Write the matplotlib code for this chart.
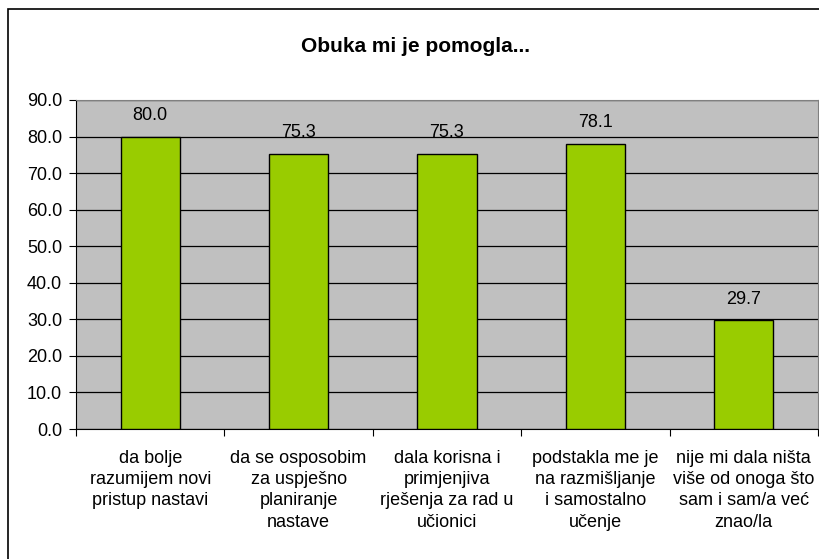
import numpy as np
import matplotlib
matplotlib.use("Agg")
import matplotlib.pyplot as plt
import matplotlib.patches as mpatches

# 数据
categories = [
    "da bolje\nrazumijem novi\npristup nastavi",
    "da se osposobim\nza uspješno\nplaniranje\nnastave",
    "dala korisna i\nprimjenjiva\nrješenja za rad u\nučionici",
    "podstakla me je\nna razmišljanje\ni samostalno\nučenje",
    "nije mi dala ništa\nviše od onoga što\nsam i sam/a već\nznao/la",
]
values = [80.0, 75.3, 75.3, 78.1, 29.7]
yticks = [0, 10, 20, 30, 40, 50, 60, 70, 80, 90]
title = "Obuka mi je pomogla..."

plt.rcParams["font.family"] = ["Liberation Sans", "DejaVu Sans"]
plt.rcParams["font.size"] = 13

fig = plt.figure(figsize=(8.2, 5.59), dpi=100)
# 外框（Excel 图表区边框）
fig.patches.append(mpatches.Rectangle((8 / 820, -0.01), 1.0, 1 - 9 / 559 + 0.01,
                                      transform=fig.transFigure, fill=False,
                                      edgecolor="black", linewidth=1.2))

ax = fig.add_axes([76 / 820, 1 - 429 / 559, (818 - 76) / 820, (429 - 100) / 559])
ax.set_facecolor("#C0C0C0")
ax.set_axisbelow(True)

x = np.arange(len(values))
bars = ax.bar(x, values, width=0.4, color="#99CC00", edgecolor="black",
              linewidth=1.0, zorder=3)

for b, v in zip(bars, values):
    ax.text(b.get_x() + b.get_width() / 2, v + 5.8, f"{v:.1f}",
            ha="center", va="center", fontsize=13)

ax.set_xlim(-0.5, len(values) - 0.5)
ax.set_ylim(0, 90)
ax.set_yticks(yticks)
ax.set_yticklabels([f"{t:.1f}" for t in yticks])
ax.yaxis.grid(True, color="black", linewidth=0.9, zorder=0)

# 类别刻度在分界处
ax.set_xticks(np.arange(len(values) + 1) - 0.5)
ax.set_xticklabels([])
ax.set_xticks(x, minor=True)
ax.set_xticklabels(categories, minor=True, linespacing=1.33, va="top")
ax.tick_params(axis="x", which="minor", length=0, pad=15)
ax.tick_params(axis="x", which="major", length=5, direction="out")
ax.tick_params(axis="y", length=5, direction="out", pad=5)

for s in ["top", "right"]:
    ax.spines[s].set_color("#808080")
ax.spines["left"].set_color("black")
ax.spines["bottom"].set_color("black")

fig.text(416 / 820, 1 - 47 / 559, title, ha="center", va="center",
         fontsize=15, fontweight="bold")

fig.savefig("out.png", dpi=100)
